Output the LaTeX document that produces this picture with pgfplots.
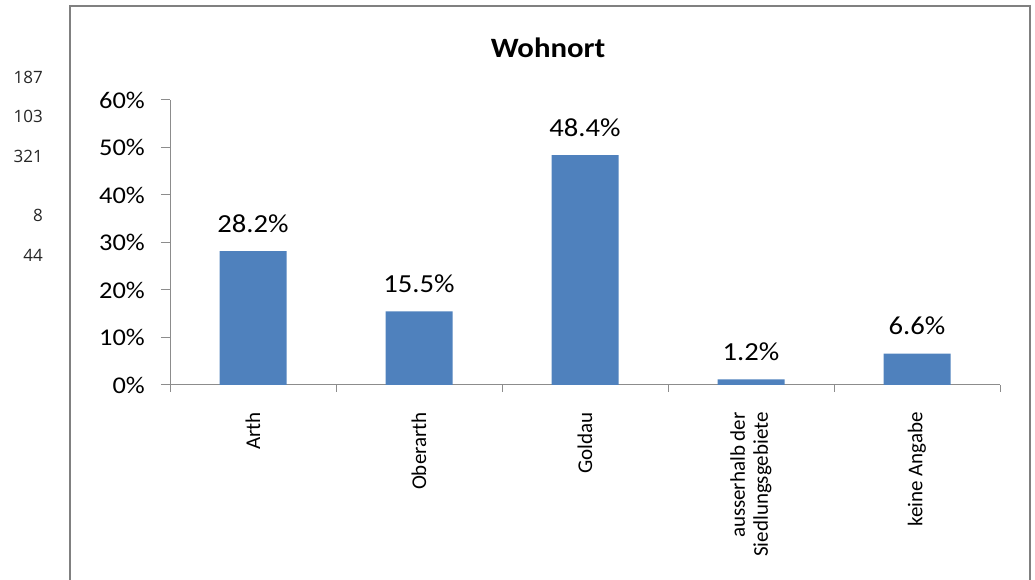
\documentclass[border=0pt]{standalone}
\usepackage{fontspec}
\setmainfont{Carlito}
\newfontfamily\wide{Carlito}[FakeStretch=1.1]
\newfontfamily\os{Open Sans}
\usepackage{pgfplots}
\pgfplotsset{compat=1.18}
\definecolor{barblue}{HTML}{4F81BD}
\definecolor{axgray}{HTML}{8C8C8C}
\definecolor{framegray}{HTML}{808080}
\begin{document}
\begin{tikzpicture}[x=1pt,y=1pt]
\path[use as bounding box] (0,0) rectangle (1035,580);
\draw[framegray, line width=1.6pt] (70,-5) -- (70,574) -- (1030,574) -- (1030,-5);
\foreach \v/\yy in {187/77,103/116,321/156,8/215,44/255}
  \node[anchor=east, inner sep=0pt, font=\os\fontsize{17}{20}\selectfont, text=black!85] at (43,580-\yy) {\v};
\node[font=\wide\bfseries\fontsize{28}{32}\selectfont] at (548,532) {Wohnort};
\begin{axis}[
  at={(170pt,195pt)}, anchor=south west,
  scale only axis, width=830pt, height=285pt,
  xmin=-0.5, xmax=4.5, ymin=0, ymax=60,
  axis lines*=left,
  axis line style={axgray, line width=1pt},
  tick style={axgray, line width=1pt},
  tick align=outside,
  ytick={0,10,...,60},
  yticklabels={0\%,10\%,20\%,30\%,40\%,50\%,60\%},
  major tick length=9pt,
  minor tick length=7pt,
  yticklabel style={font=\wide\fontsize{24}{28}\selectfont, inner sep=0pt, anchor=east},
  yticklabel shift=16pt,
  xtick={0,1,2,3,4},
  major x tick style={draw=none},
  minor xtick={-0.5,0.5,1.5,2.5,3.5,4.5},
  xticklabels={Arth,Oberarth,Goldau,{ausserhalb der\\Siedlungsgebiete},keine Angabe},
  xticklabel style={rotate=90, anchor=east, inner sep=0pt, align=right, font=\fontsize{21}{23}\selectfont},
  xticklabel shift=18pt,
  ybar, bar width=67pt,
  clip=false,
  point meta=explicit symbolic,
  nodes near coords,
  every node near coord/.append style={anchor=base, inner sep=0pt, yshift=19pt, font=\wide\fontsize{26}{30}\selectfont, text=black},
]
\addplot[fill=barblue, draw=none] coordinates {
  (0,28.2) [28.2\%]
  (1,15.5) [15.5\%]
  (2,48.4) [48.4\%]
  (3,1.2) [1.2\%]
  (4,6.6) [6.6\%]
};
\end{axis}
\end{tikzpicture}
\end{document}
